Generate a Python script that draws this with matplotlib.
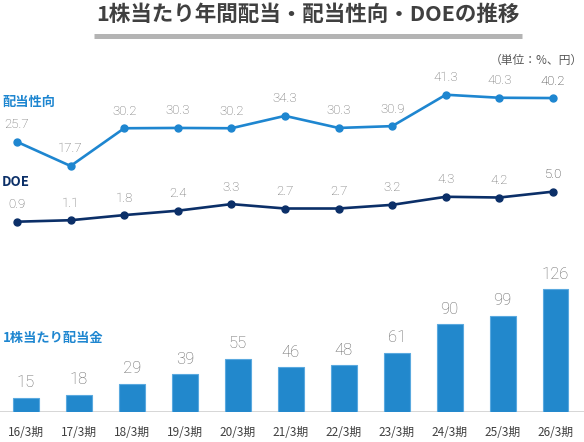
import matplotlib
matplotlib.use("Agg")
import matplotlib.pyplot as plt

plt.rcParams['font.family'] = ['Noto Sans CJK JP', 'DejaVu Sans']

categories = ["16/3期", "17/3期", "18/3期", "19/3期", "20/3期", "21/3期",
              "22/3期", "23/3期", "24/3期", "25/3期", "26/3期"]
dividend = [15, 18, 29, 39, 55, 46, 48, 61, 90, 99, 126]
payout = [25.7, 17.7, 30.2, 30.3, 30.2, 34.3, 30.3, 30.9, 41.3, 40.3, 40.2]
doe = [0.9, 1.1, 1.8, 2.4, 3.3, 2.7, 2.7, 3.2, 4.3, 4.2, 5.0]

W, H = 584, 442
fig = plt.figure(figsize=(W / 100, H / 100), dpi=100)

def ax_px(top, bottom):
    return fig.add_axes([0, 1 - bottom / H, 1, (bottom - top) / H])

BLUE = '#1e86d0'
NAVY = '#0b2f68'
BAR = '#2288cc'
GREY = '#666666'
NUMFONT = ['Roboto', 'DejaVu Sans']

x = list(range(len(categories)))

# --- payout ratio line ---
ax1 = ax_px(80, 180)
ax1.set_xlim(-0.317, 10.578)
ax1.set_ylim(13.06, 46.18)
ax1.plot(x, payout, color=BLUE, lw=1.9, marker='o', ms=5, zorder=3)
for i, v in enumerate(payout):
    ax1.annotate(f"{v:.1f}", (i, v), xytext=(0, 17), textcoords='offset pixels',
                 ha='center', va='center', fontsize=9.5, family=NUMFONT, fontweight='light',
                 color='#303030' if i == len(payout) - 1 else GREY)
ax1.axis('off')

# --- DOE line ---
ax2 = ax_px(180, 240)
ax2.set_xlim(-0.317, 10.578)
ax2.set_ylim(-1.597, 6.589)
ax2.plot(x, doe, color=NAVY, lw=1.9, marker='o', ms=5, zorder=3)
for i, v in enumerate(doe):
    ax2.annotate(f"{v:.1f}", (i, v), xytext=(0, 17), textcoords='offset pixels',
                 ha='center', va='center', fontsize=9.5, family=NUMFONT, fontweight='light',
                 color='#303030' if i == len(doe) - 1 else GREY)
ax2.axis('off')

# --- dividend bars ---
ax3 = ax_px(270, 412.3)
ax3.set_xlim(-0.491, 10.538)
ax3.set_ylim(0, 145.8)
ax3.bar(x, dividend, width=0.49, color=BAR, edgecolor='#5aa9df', linewidth=0.8, zorder=2)
for i, v in enumerate(dividend):
    ax3.annotate(f"{v}", (i, v), xytext=(0, 15), textcoords='offset pixels',
                 ha='center', va='center', fontsize=12, family=NUMFONT, fontweight='light',
                 color=GREY)
ax3.axhline(0, color='#d0d0d0', lw=1.2, zorder=1)
ax3.set_xticks(x)
ax3.set_xticklabels(categories, fontsize=8.5, color='#404040')
ax3.tick_params(axis='x', length=0, pad=10)
ax3.tick_params(axis='y', left=False, labelleft=False)
for s in ax3.spines.values():
    s.set_visible(False)
ax3.patch.set_alpha(0)

# --- texts ---
def ft(px_x, px_y, s, **kw):
    fig.text(px_x / W, 1 - px_y / H, s, **kw)

ft(308, 14, "1株当たり年間配当・配当性向・DOEの推移", ha='center', va='center',
   fontsize=15.5, fontweight='bold', color='#404040')
fig.add_artist(plt.Line2D([94 / W, 522 / W], [1 - 36 / H, 1 - 36 / H],
                          color='#b4b4b4', lw=3.6, solid_capstyle='butt'))
ft(583, 60, "（単位：%、円）", ha='right', va='center', fontsize=8.5, color='#595959')
ft(2, 102, "配当性向", ha='left', va='center', fontsize=9.5, fontweight='bold', color=BLUE)
ft(2, 182, "DOE", ha='left', va='center', fontsize=9.5, fontweight='bold', color=NAVY)
ft(3, 338, "1株当たり配当金", ha='left', va='center', fontsize=9.5, fontweight='bold', color=BLUE)

fig.savefig("out.png", dpi=100)
